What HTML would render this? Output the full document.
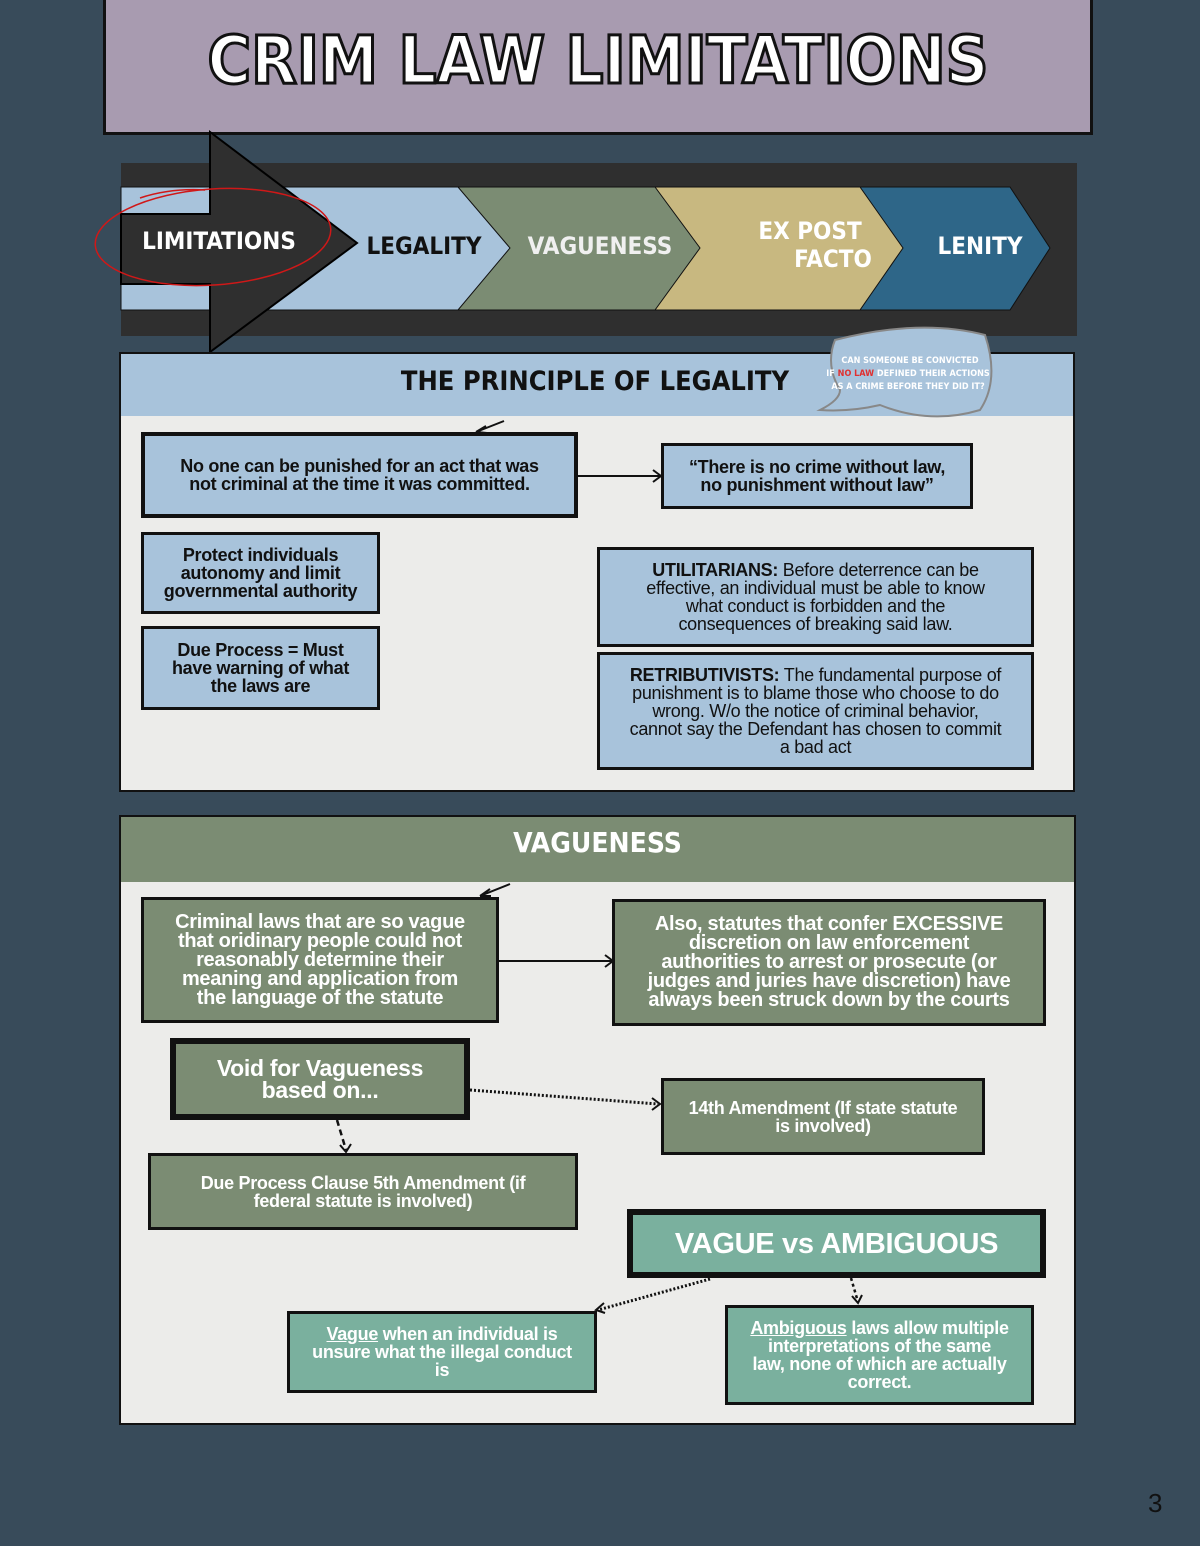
<!DOCTYPE html>
<html><head><meta charset="utf-8"><style>
*{margin:0;padding:0}
body{width:1200px;height:1546px;background:#384b5a;position:relative;overflow:hidden;font-family:"Liberation Sans",sans-serif}
.a{position:absolute;box-sizing:border-box}
.b{position:absolute;box-sizing:border-box;display:flex;align-items:center;justify-content:center;text-align:center;font-weight:bold;font-size:18px;line-height:18px;letter-spacing:-0.3px;border:3px solid #111;color:#111}
.lb{background:#a8c3db}
.gr{background:#7b8c73;color:#fff}
.tl{background:#7ab09e;color:#fff}
.hd{font-family:"DejaVu Sans Condensed","Liberation Sans",sans-serif;font-weight:bold}
</style></head><body>
<div class="a" style="left:103px;top:-3px;width:990px;height:138px;background:#a89bb0;border:3px solid #111"></div>
<div class="a hd" style="left:103px;top:16px;width:990px;text-align:center;font-size:66px;line-height:90px;color:#fff;-webkit-text-stroke:3px #111;letter-spacing:0px">CRIM LAW LIMITATIONS</div>

<svg class="a" style="left:0;top:0" width="1200" height="1546">
<rect x="121" y="163" width="956" height="173" fill="#2f2f2f"/>
<path d="M850 187 L1010 187 L1050 248 L1010 310 L850 310 L893 248 Z" fill="#2e6688" stroke="#111"/>
<path d="M648 187 L860 187 L903 248 L860 310 L648 310 L690 248 Z" fill="#c8b880" stroke="#111"/>
<path d="M458 187 L655 187 L700 248 L655 310 L458 310 L500 248 Z" fill="#7b8c73" stroke="#111"/>
<path d="M121 187 L458 187 L510 248 L458 310 L121 310 Z" fill="#a8c3db" stroke="#111"/>
<path d="M121 214 L210 214 L210 132 L357 243 L210 352 L210 284 L121 284 Z" fill="#2f2f2f" stroke="#000" stroke-width="2"/>
<ellipse cx="213" cy="237" rx="118" ry="48" fill="none" stroke="#d01818" stroke-width="1.5" transform="rotate(-4 213 237)"/>
<path d="M140 198 Q170 188 205 190" stroke="#d01818" fill="none" stroke-width="1.5"/>
<g font-family="DejaVu Sans Condensed, Liberation Sans, sans-serif" font-weight="bold" font-size="24" text-anchor="middle">
<text x="219" y="249" fill="#fff">LIMITATIONS</text>
<text x="424" y="254" fill="#111">LEGALITY</text>
<text x="600" y="254" fill="#f0f0f0">VAGUENESS</text>
<text x="810" y="239" fill="#fff">EX POST</text>
<text x="833" y="267" fill="#fff">FACTO</text>
<text x="980" y="254" fill="#fff">LENITY</text>
</g>
</svg>

<!-- legality section -->
<div class="a lb" style="left:119px;top:352px;width:956px;height:66px;border:2px solid #111"></div>
<div class="a hd" style="left:300px;top:366px;width:590px;text-align:center;font-size:27px;color:#111">THE PRINCIPLE OF LEGALITY</div>
<div class="a" style="left:119px;top:416px;width:956px;height:376px;background:#ececea;border:2px solid #111;border-top:none"></div>

<!-- vagueness -->
<div class="a" style="left:119px;top:815px;width:957px;height:69px;background:#7b8c73;border:2px solid #111"></div>
<div class="a hd" style="left:119px;top:826px;width:957px;text-align:center;font-size:28px;color:#fff">VAGUENESS</div>
<div class="a" style="left:119px;top:882px;width:957px;height:543px;background:#ececea;border:2px solid #111;border-top:none"></div>

<svg class="a" style="left:0;top:0" width="1200" height="1546">
<path d="M835 340 Q920 318 985 335 Q1000 380 980 410 Q930 425 880 405 Q850 412 820 410 Q840 400 840 390 Q825 365 835 340 Z" fill="#a8c3db" stroke="#888" stroke-width="2"/>
<g font-family="DejaVu Sans Condensed, Liberation Sans, sans-serif" font-weight="bold" font-size="9" fill="#fff" text-anchor="middle">
<text x="910" y="363">CAN SOMEONE BE CONVICTED</text>
<text x="908" y="376">IF <tspan fill="#e03030">NO LAW</tspan> DEFINED THEIR ACTIONS</text>
<text x="908" y="389">AS A CRIME BEFORE THEY DID IT?</text>
</g>
<path d="M504 421 L476 432 M476 432 L486 426 M476 432 L487 433" stroke="#111" stroke-width="2" fill="none"/>
<path d="M578 476 L660 476 M653 470 L661 476 L653 482" stroke="#111" stroke-width="2" fill="none"/>
<path d="M510 884 L480 896 M480 896 L490 889 M480 896 L491 896" stroke="#111" stroke-width="2" fill="none"/>
<path d="M498 961 L612 961 M605 955 L613 961 L605 967" stroke="#111" stroke-width="2" fill="none"/>
<path d="M470 1090 L658 1104" stroke="#111" stroke-width="3" stroke-dasharray="2 2" fill="none"/>
<path d="M652 1098 L660 1104 L652 1110" stroke="#111" stroke-width="2" fill="none"/>
<path d="M337 1120 L346 1150" stroke="#111" stroke-width="2.5" stroke-dasharray="6 4" fill="none"/>
<path d="M340 1145 L346 1152 L351 1144" stroke="#111" stroke-width="2" fill="none"/>
<path d="M710 1279 L598 1310" stroke="#111" stroke-width="3" stroke-dasharray="2 2" fill="none"/>
<path d="M604 1303 L596 1310 L605 1313" stroke="#111" stroke-width="2" fill="none"/>
<path d="M851 1278 L858 1302" stroke="#111" stroke-width="2.5" stroke-dasharray="3 3" fill="none"/>
<path d="M852 1296 L858 1303 L862 1295" stroke="#111" stroke-width="2" fill="none"/>
</svg>

<div class="b lb" style="left:141px;top:432px;width:437px;height:86px;border-width:4px">No one can be punished for an act that was<br>not criminal at the time it was committed.</div>
<div class="b lb" style="left:661px;top:443px;width:312px;height:66px">“There is no crime without law,<br>no punishment without law”</div>
<div class="b lb" style="left:141px;top:532px;width:239px;height:82px">Protect individuals<br>autonomy and limit<br>governmental authority</div>
<div class="b lb" style="left:141px;top:626px;width:239px;height:84px">Due Process = Must<br>have warning of what<br>the laws are</div>
<div class="b lb" style="left:597px;top:547px;width:437px;height:100px;font-weight:normal">
<span><b>UTILITARIANS:</b> Before deterrence can be<br>effective, an individual must be able to know<br>what conduct is forbidden and the<br>consequences of breaking said law.</span></div>
<div class="b lb" style="left:597px;top:652px;width:437px;height:118px;font-weight:normal">
<span><b>RETRIBUTIVISTS:</b> The fundamental purpose of<br>punishment is to blame those who choose to do<br>wrong. W/o the notice of criminal behavior,<br>cannot say the Defendant has chosen to commit<br>a bad act</span></div>

<div class="b gr" style="left:141px;top:897px;width:358px;height:126px;font-size:20px;line-height:19px">Criminal laws that are so vague<br>that oridinary people could not<br>reasonably determine their<br>meaning and application from<br>the language of the statute</div>
<div class="b gr" style="left:612px;top:899px;width:434px;height:127px;font-size:20px;line-height:19px">Also, statutes that confer EXCESSIVE<br>discretion on law enforcement<br>authorities to arrest or prosecute (or<br>judges and juries have discretion) have<br>always been struck down by the courts</div>
<div class="b gr" style="left:170px;top:1038px;width:300px;height:82px;border-width:6px;font-size:23px;line-height:22px">Void for Vagueness<br>based on...</div>
<div class="b gr" style="left:661px;top:1078px;width:324px;height:77px">14th Amendment (If state statute<br>is involved)</div>
<div class="b gr" style="left:148px;top:1153px;width:430px;height:77px">Due Process Clause 5th Amendment (if<br>federal statute is involved)</div>
<div class="b tl" style="left:627px;top:1209px;width:419px;height:69px;border-width:6px;font-size:29px;line-height:30px">VAGUE vs AMBIGUOUS</div>
<div class="b tl" style="left:287px;top:1311px;width:310px;height:82px"><span><u>Vague</u> when an individual is<br>unsure what the illegal conduct<br>is</span></div>
<div class="b tl" style="left:725px;top:1305px;width:309px;height:100px"><span><u>Ambiguous</u> laws allow multiple<br>interpretations of the same<br>law, none of which are actually<br>correct.</span></div>

<div class="a" style="left:1148px;top:1488px;font-size:26px;color:#111">3</div>
</body></html>
